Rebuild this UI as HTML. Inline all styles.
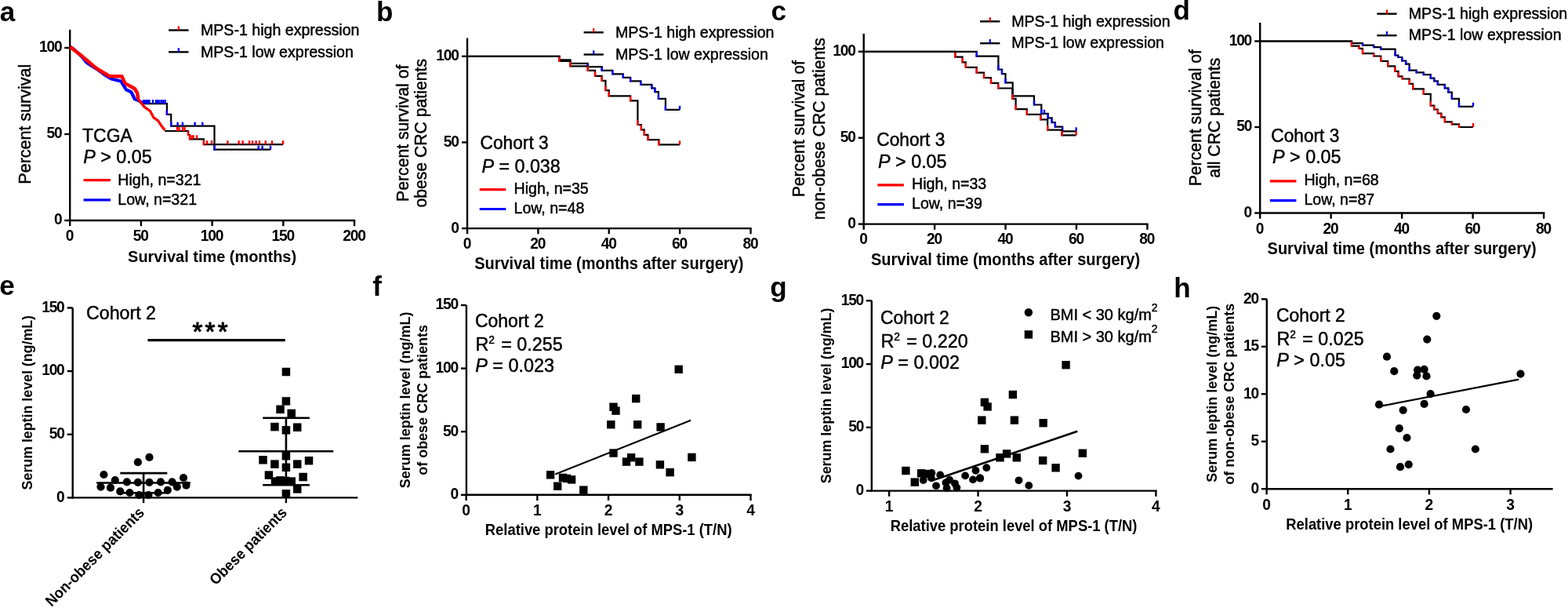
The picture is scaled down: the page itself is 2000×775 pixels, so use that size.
<!DOCTYPE html>
<html><head><meta charset="utf-8"><title>Figure</title>
<style>
html,body{margin:0;padding:0;background:#fff;width:2000px;height:775px;overflow:hidden}
svg{display:block}
text{font-family:"Liberation Sans",Arial,Helvetica,sans-serif;fill:#000;stroke:#000;stroke-width:0.45px;stroke-linejoin:round}
text[font-weight="bold"]{stroke-width:0}
</style></head><body>
<svg width="2000" height="775" viewBox="0 0 2000 775">
<rect width="2000" height="775" fill="#fff"/>
<text transform="translate(-0.3 26.6)" font-size="35" font-weight="bold">a</text>
<line x1="89.2" y1="37.8" x2="89.2" y2="282.2" stroke="#000" stroke-width="2.4" stroke-linecap="butt"/>
<line x1="82.2" y1="61" x2="89.2" y2="61" stroke="#000" stroke-width="2.4" stroke-linecap="butt"/>
<text transform="translate(78.4 66.4) scale(1 1.06)" font-size="19.2" font-weight="bold" text-anchor="end" letter-spacing="-1.2">100</text>
<line x1="82.2" y1="171" x2="89.2" y2="171" stroke="#000" stroke-width="2.4" stroke-linecap="butt"/>
<text transform="translate(78.4 176.4) scale(1 1.06)" font-size="19.2" font-weight="bold" text-anchor="end" letter-spacing="-1.2">50</text>
<line x1="82.2" y1="281" x2="89.2" y2="281" stroke="#000" stroke-width="2.4" stroke-linecap="butt"/>
<text transform="translate(78.4 286.4) scale(1 1.06)" font-size="19.2" font-weight="bold" text-anchor="end" letter-spacing="-1.2">0</text>
<line x1="88" y1="281" x2="453.2" y2="281" stroke="#000" stroke-width="2.4" stroke-linecap="butt"/>
<line x1="89.2" y1="281" x2="89.2" y2="288.2" stroke="#000" stroke-width="2.4" stroke-linecap="butt"/>
<text transform="translate(88.6 306.9) scale(1 1.06)" font-size="19.2" font-weight="bold" text-anchor="middle" letter-spacing="-1.2">0</text>
<line x1="179.9" y1="281" x2="179.9" y2="288.2" stroke="#000" stroke-width="2.4" stroke-linecap="butt"/>
<text transform="translate(179.3 306.9) scale(1 1.06)" font-size="19.2" font-weight="bold" text-anchor="middle" letter-spacing="-1.2">50</text>
<line x1="270.6" y1="281" x2="270.6" y2="288.2" stroke="#000" stroke-width="2.4" stroke-linecap="butt"/>
<text transform="translate(270 306.9) scale(1 1.06)" font-size="19.2" font-weight="bold" text-anchor="middle" letter-spacing="-1.2">100</text>
<line x1="361.3" y1="281" x2="361.3" y2="288.2" stroke="#000" stroke-width="2.4" stroke-linecap="butt"/>
<text transform="translate(360.7 306.9) scale(1 1.06)" font-size="19.2" font-weight="bold" text-anchor="middle" letter-spacing="-1.2">150</text>
<line x1="452" y1="281" x2="452" y2="288.2" stroke="#000" stroke-width="2.4" stroke-linecap="butt"/>
<text transform="translate(451.4 306.9) scale(1 1.06)" font-size="19.2" font-weight="bold" text-anchor="middle" letter-spacing="-1.2">200</text>
<text transform="translate(270.6 333.5) scale(1 1.06)" font-size="19.95" font-weight="bold" text-anchor="middle">Survival time (months)</text>
<text transform="translate(38.8 158.2) rotate(-90) scale(1 1.05)" font-size="21.5" text-anchor="middle">Percent survival</text>
<line x1="215.1" y1="38.5" x2="240.5" y2="38.5" stroke="#000" stroke-width="2.4" stroke-linecap="butt"/>
<rect x="226.7" y="33.3" width="2.2" height="5.2" fill="#ff0000"/>
<text transform="translate(256 44.8) scale(1 1.05)" font-size="19.6">MPS-1 high expression</text>
<line x1="215.1" y1="66.3" x2="240.5" y2="66.3" stroke="#000" stroke-width="2.4" stroke-linecap="butt"/>
<rect x="226.7" y="61.1" width="2.2" height="5.2" fill="#0000ff"/>
<text transform="translate(256 72.6) scale(1 1.05)" font-size="19.6">MPS-1 low expression</text>
<text transform="translate(105 180.6) scale(1 1.05)" font-size="23">TCGA</text>
<text transform="translate(106.2 208.1) scale(1 1.05)" font-size="23.3"><tspan font-style="italic">P</tspan> &gt; 0.05</text>
<line x1="106.6" y1="229.7" x2="141" y2="229.7" stroke="#ff0000" stroke-width="3.2" stroke-linecap="butt"/>
<text transform="translate(150.3 235.5) scale(1 1.05)" font-size="19.6">High, n=321</text>
<line x1="106.6" y1="254.9" x2="141" y2="254.9" stroke="#0000ff" stroke-width="3.2" stroke-linecap="butt"/>
<text transform="translate(150.3 260.7) scale(1 1.05)" font-size="19.6">Low, n=321</text>
<polyline fill="none" stroke="#000" stroke-width="2" stroke-linejoin="miter" points="89.5,59.5 95,63.5 100,68 106,74 110.2,79.5 117,84 125,89 135.3,96.5 142,100.5 150,102.5 154.3,103.5 160.8,114.1 167.4,117.4 171.8,126.2 176.2,127.8 181.7,131.5"/>
<polyline fill="none" stroke="#0000ff" stroke-width="4.2" stroke-linejoin="round" points="89.5,59.5 95,63.5 100,68 106,74 110.2,79.5 117,84 125,89 135.3,96.5 142,100.5 150,102.5 154.3,103.5 160.8,114.1 167.4,117.4 171.8,126.2 176.2,127.8 181.7,131.5"/>
<polyline fill="none" stroke="#000" stroke-width="2.2" stroke-linejoin="miter" points="181.7,132.2 212.9,132.2 212.9,145.9 218.2,145.9 218.2,160.6 273.5,160.6 273.5,190.7 345,190.7"/>
<rect x="211.7" y="140.4" width="2.4" height="6.5" fill="#0000ff"/>
<rect x="217" y="155.1" width="2.4" height="6.5" fill="#0000ff"/>
<rect x="272.3" y="185.2" width="2.4" height="6.5" fill="#0000ff"/>
<rect x="181.8" y="127.2" width="2.4" height="5" fill="#0000ff"/>
<rect x="183.3" y="127.2" width="2.4" height="5" fill="#0000ff"/>
<rect x="184.8" y="127.2" width="2.4" height="5" fill="#0000ff"/>
<rect x="186.3" y="127.2" width="2.4" height="5" fill="#0000ff"/>
<rect x="187.8" y="127.2" width="2.4" height="5" fill="#0000ff"/>
<rect x="189.3" y="127.2" width="2.4" height="5" fill="#0000ff"/>
<rect x="193.8" y="127.2" width="2.4" height="5" fill="#0000ff"/>
<rect x="197.8" y="127.2" width="2.4" height="5" fill="#0000ff"/>
<rect x="199.8" y="127.2" width="2.4" height="5" fill="#0000ff"/>
<rect x="202.2" y="127.2" width="2.4" height="5" fill="#0000ff"/>
<rect x="204.8" y="127.2" width="2.4" height="5" fill="#0000ff"/>
<rect x="207.1" y="127.2" width="2.4" height="5" fill="#0000ff"/>
<rect x="209.4" y="127.2" width="2.4" height="5" fill="#0000ff"/>
<rect x="225.4" y="155.6" width="2.4" height="5" fill="#0000ff"/>
<rect x="231.7" y="155.6" width="2.4" height="5" fill="#0000ff"/>
<rect x="247.4" y="155.6" width="2.4" height="5" fill="#0000ff"/>
<rect x="257.1" y="155.6" width="2.4" height="5" fill="#0000ff"/>
<rect x="328.5" y="185.7" width="2.4" height="5" fill="#0000ff"/>
<rect x="333.4" y="185.7" width="2.4" height="5" fill="#0000ff"/>
<rect x="343.8" y="185.7" width="2.4" height="5" fill="#0000ff"/>
<polyline fill="none" stroke="#000" stroke-width="2" stroke-linejoin="miter" points="89.5,59.5 96,65 104.4,71.3 111,77 117.9,82.9 126,89 135.3,94.5 140,97.3 155.4,97.3 159.7,106.4 171.8,113 175.1,118.5 176.2,126.2 183.9,136.1 191.5,141.5 195.9,149.8 201.4,153.6 205.8,160.2 210.2,165.7"/>
<polyline fill="none" stroke="#ff0000" stroke-width="4.4" stroke-linejoin="round" points="89.5,59.5 96,65 104.4,71.3 111,77 117.9,82.9 126,89 135.3,94.5 140,97.3 155.4,97.3 159.7,106.4 171.8,113 175.1,118.5 176.2,126.2"/>
<polyline fill="none" stroke="#ff0000" stroke-width="3.3" stroke-linejoin="round" points="175.1,118.5 176.2,126.2 183.9,136.1 191.5,141.5 195.9,149.8 201.4,153.6 205.8,160.2 210.2,165.7"/>
<polyline fill="none" stroke="#000" stroke-width="2.2" stroke-linejoin="miter" points="210.2,167 240,167 240,171.8 242,171.8 242,177.3 259.9,177.3 259.9,184.2 361,184.2"/>
<rect x="238.8" y="167" width="2.4" height="5.8" fill="#ff0000"/>
<rect x="240.8" y="171.8" width="2.4" height="6.5" fill="#ff0000"/>
<rect x="258.7" y="178.7" width="2.4" height="6.5" fill="#ff0000"/>
<rect x="224.8" y="162" width="2.4" height="5" fill="#ff0000"/>
<rect x="227.3" y="162" width="2.4" height="5" fill="#ff0000"/>
<rect x="231.8" y="162" width="2.4" height="5" fill="#ff0000"/>
<rect x="234.3" y="162" width="2.4" height="5" fill="#ff0000"/>
<rect x="243.3" y="172.3" width="2.4" height="5" fill="#ff0000"/>
<rect x="245.3" y="172.3" width="2.4" height="5" fill="#ff0000"/>
<rect x="249.8" y="172.3" width="2.4" height="5" fill="#ff0000"/>
<rect x="262.8" y="179.2" width="2.4" height="5" fill="#ff0000"/>
<rect x="268.8" y="179.2" width="2.4" height="5" fill="#ff0000"/>
<rect x="289.2" y="179.2" width="2.4" height="5" fill="#ff0000"/>
<rect x="303.4" y="179.2" width="2.4" height="5" fill="#ff0000"/>
<rect x="308.4" y="179.2" width="2.4" height="5" fill="#ff0000"/>
<rect x="316.8" y="179.2" width="2.4" height="5" fill="#ff0000"/>
<rect x="320.8" y="179.2" width="2.4" height="5" fill="#ff0000"/>
<rect x="325.4" y="179.2" width="2.4" height="5" fill="#ff0000"/>
<rect x="329.8" y="179.2" width="2.4" height="5" fill="#ff0000"/>
<rect x="337.5" y="179.2" width="2.4" height="5" fill="#ff0000"/>
<rect x="345.8" y="179.2" width="2.4" height="5" fill="#ff0000"/>
<rect x="359.8" y="179.2" width="2.4" height="5" fill="#ff0000"/>
<text transform="translate(480 26.6)" font-size="35" font-weight="bold">b</text>
<line x1="596" y1="48.5" x2="596" y2="292.3" stroke="#000" stroke-width="2.4" stroke-linecap="butt"/>
<line x1="589" y1="71.8" x2="596" y2="71.8" stroke="#000" stroke-width="2.4" stroke-linecap="butt"/>
<text transform="translate(584.7 77.2) scale(1 1.06)" font-size="19.2" font-weight="bold" text-anchor="end" letter-spacing="-1.2">100</text>
<line x1="589" y1="181.45" x2="596" y2="181.45" stroke="#000" stroke-width="2.4" stroke-linecap="butt"/>
<text transform="translate(584.7 186.85) scale(1 1.06)" font-size="19.2" font-weight="bold" text-anchor="end" letter-spacing="-1.2">50</text>
<line x1="589" y1="291.1" x2="596" y2="291.1" stroke="#000" stroke-width="2.4" stroke-linecap="butt"/>
<text transform="translate(584.7 296.5) scale(1 1.06)" font-size="19.2" font-weight="bold" text-anchor="end" letter-spacing="-1.2">0</text>
<line x1="594.8" y1="291.1" x2="958.7" y2="291.1" stroke="#000" stroke-width="2.4" stroke-linecap="butt"/>
<line x1="596" y1="291.1" x2="596" y2="298.3" stroke="#000" stroke-width="2.4" stroke-linecap="butt"/>
<text transform="translate(595.4 316.9) scale(1 1.06)" font-size="19.2" font-weight="bold" text-anchor="middle" letter-spacing="-1.2">0</text>
<line x1="686.38" y1="291.1" x2="686.38" y2="298.3" stroke="#000" stroke-width="2.4" stroke-linecap="butt"/>
<text transform="translate(685.77 316.9) scale(1 1.06)" font-size="19.2" font-weight="bold" text-anchor="middle" letter-spacing="-1.2">20</text>
<line x1="776.75" y1="291.1" x2="776.75" y2="298.3" stroke="#000" stroke-width="2.4" stroke-linecap="butt"/>
<text transform="translate(776.15 316.9) scale(1 1.06)" font-size="19.2" font-weight="bold" text-anchor="middle" letter-spacing="-1.2">40</text>
<line x1="867.12" y1="291.1" x2="867.12" y2="298.3" stroke="#000" stroke-width="2.4" stroke-linecap="butt"/>
<text transform="translate(866.52 316.9) scale(1 1.06)" font-size="19.2" font-weight="bold" text-anchor="middle" letter-spacing="-1.2">60</text>
<line x1="957.5" y1="291.1" x2="957.5" y2="298.3" stroke="#000" stroke-width="2.4" stroke-linecap="butt"/>
<text transform="translate(956.9 316.9) scale(1 1.06)" font-size="19.2" font-weight="bold" text-anchor="middle" letter-spacing="-1.2">80</text>
<text transform="translate(776.75 342.8) scale(1 1.06)" font-size="20" font-weight="bold" text-anchor="middle">Survival time (months after surgery)</text>
<text transform="translate(520.6 169.8) rotate(-90) scale(1 1.05)" font-size="21.2" text-anchor="middle">Percent survival of</text>
<text transform="translate(543.9 169.8) rotate(-90) scale(1 1.05)" font-size="21.2" text-anchor="middle">obese CRC patients</text>
<line x1="744.6" y1="41.3" x2="769.8" y2="41.3" stroke="#000" stroke-width="2.4" stroke-linecap="butt"/>
<rect x="756.1" y="36.1" width="2.2" height="5.2" fill="#ff0000"/>
<text transform="translate(785 47.9) scale(1 1.05)" font-size="19.6">MPS-1 high expression</text>
<line x1="744.6" y1="69.5" x2="769.8" y2="69.5" stroke="#000" stroke-width="2.4" stroke-linecap="butt"/>
<rect x="756.1" y="64.3" width="2.2" height="5.2" fill="#0000ff"/>
<text transform="translate(785 76.1) scale(1 1.05)" font-size="19.6">MPS-1 low expression</text>
<text transform="translate(612.6 189.9) scale(1 1.05)" font-size="22.7">Cohort 3</text>
<text transform="translate(614.4 220.1) scale(1 1.05)" font-size="23.3"><tspan font-style="italic">P</tspan> = 0.038</text>
<line x1="611.7" y1="241.7" x2="645.3" y2="241.7" stroke="#ff0000" stroke-width="3.2" stroke-linecap="butt"/>
<text transform="translate(655.5 247.2) scale(1 1.05)" font-size="19.6">High, n=35</text>
<line x1="611.7" y1="266.5" x2="645.3" y2="266.5" stroke="#0000ff" stroke-width="3.2" stroke-linecap="butt"/>
<text transform="translate(655.5 272) scale(1 1.05)" font-size="19.6">Low, n=48</text>
<polyline fill="none" stroke="#000" stroke-width="2.2" stroke-linejoin="miter" points="596,71.8 713.5,71.8 713.5,76.4 727.4,76.4 727.4,80.8 749.7,80.8 749.7,85.2 767.7,85.2 767.7,89.8 781.3,89.8 781.3,94.4 794.8,94.4 794.8,98.9 804.1,98.9 804.1,103.4 817.3,103.4 817.3,107.9 831.4,107.9 831.4,112.4 835.4,112.4 835.4,117.2 839.9,117.2 839.9,125.9 848.9,125.9 848.9,139.8 867,139.8"/>
<rect x="748.5" y="80.8" width="2.4" height="5.4" fill="#0000ff"/>
<rect x="766.5" y="85.2" width="2.4" height="5.6" fill="#0000ff"/>
<rect x="780.1" y="89.8" width="2.4" height="5.6" fill="#0000ff"/>
<rect x="793.6" y="94.4" width="2.4" height="5.5" fill="#0000ff"/>
<rect x="802.9" y="98.9" width="2.4" height="5.5" fill="#0000ff"/>
<rect x="816.1" y="103.4" width="2.4" height="5.5" fill="#0000ff"/>
<rect x="830.2" y="107.9" width="2.4" height="5.5" fill="#0000ff"/>
<rect x="834.2" y="112.4" width="2.4" height="5.8" fill="#0000ff"/>
<rect x="838.7" y="120.4" width="2.4" height="6.5" fill="#0000ff"/>
<rect x="847.7" y="134.3" width="2.4" height="6.5" fill="#0000ff"/>
<rect x="865.8" y="134.8" width="2.4" height="5" fill="#0000ff"/>
<polyline fill="none" stroke="#000" stroke-width="2.2" stroke-linejoin="miter" points="596,71.8 713.5,71.8 713.5,78 727.4,78 727.4,84.3 749.7,84.3 749.7,89.9 759,89.9 759,96.8 767.7,96.8 767.7,102.8 772.4,102.8 772.4,115.1 776.7,115.1 776.7,122.3 804.1,122.3 804.1,128.3 813.4,128.3 813.4,159 817.9,159 817.9,165.3 821.8,165.3 821.8,171.8 826.4,171.8 826.4,178.2 840.4,178.2 840.4,184.4 867,184.4"/>
<rect x="712.3" y="72.5" width="2.4" height="6.5" fill="#ff0000"/>
<rect x="726.2" y="78.8" width="2.4" height="6.5" fill="#ff0000"/>
<rect x="748.5" y="84.4" width="2.4" height="6.5" fill="#ff0000"/>
<rect x="757.8" y="91.3" width="2.4" height="6.5" fill="#ff0000"/>
<rect x="766.5" y="97.3" width="2.4" height="6.5" fill="#ff0000"/>
<rect x="771.2" y="109.6" width="2.4" height="6.5" fill="#ff0000"/>
<rect x="775.5" y="116.8" width="2.4" height="6.5" fill="#ff0000"/>
<rect x="802.9" y="122.8" width="2.4" height="6.5" fill="#ff0000"/>
<rect x="812.2" y="153.5" width="2.4" height="6.5" fill="#ff0000"/>
<rect x="816.7" y="159.8" width="2.4" height="6.5" fill="#ff0000"/>
<rect x="820.6" y="166.3" width="2.4" height="6.5" fill="#ff0000"/>
<rect x="825.2" y="172.7" width="2.4" height="6.5" fill="#ff0000"/>
<rect x="839.2" y="178.9" width="2.4" height="6.5" fill="#ff0000"/>
<rect x="865.8" y="179.4" width="2.4" height="5" fill="#ff0000"/>
<text transform="translate(983.6 25.7)" font-size="35" font-weight="bold">c</text>
<line x1="1101.7" y1="42.9" x2="1101.7" y2="286.8" stroke="#000" stroke-width="2.4" stroke-linecap="butt"/>
<line x1="1094.7" y1="65.8" x2="1101.7" y2="65.8" stroke="#000" stroke-width="2.4" stroke-linecap="butt"/>
<text transform="translate(1090.7 71.2) scale(1 1.06)" font-size="19.2" font-weight="bold" text-anchor="end" letter-spacing="-1.2">100</text>
<line x1="1094.7" y1="175.7" x2="1101.7" y2="175.7" stroke="#000" stroke-width="2.4" stroke-linecap="butt"/>
<text transform="translate(1090.7 181.1) scale(1 1.06)" font-size="19.2" font-weight="bold" text-anchor="end" letter-spacing="-1.2">50</text>
<line x1="1094.7" y1="285.6" x2="1101.7" y2="285.6" stroke="#000" stroke-width="2.4" stroke-linecap="butt"/>
<text transform="translate(1090.7 291) scale(1 1.06)" font-size="19.2" font-weight="bold" text-anchor="end" letter-spacing="-1.2">0</text>
<line x1="1100.5" y1="285.6" x2="1464.6" y2="285.6" stroke="#000" stroke-width="2.4" stroke-linecap="butt"/>
<line x1="1101.7" y1="285.6" x2="1101.7" y2="292.8" stroke="#000" stroke-width="2.4" stroke-linecap="butt"/>
<text transform="translate(1101.1 311) scale(1 1.06)" font-size="19.2" font-weight="bold" text-anchor="middle" letter-spacing="-1.2">0</text>
<line x1="1192.12" y1="285.6" x2="1192.12" y2="292.8" stroke="#000" stroke-width="2.4" stroke-linecap="butt"/>
<text transform="translate(1191.53 311) scale(1 1.06)" font-size="19.2" font-weight="bold" text-anchor="middle" letter-spacing="-1.2">20</text>
<line x1="1282.55" y1="285.6" x2="1282.55" y2="292.8" stroke="#000" stroke-width="2.4" stroke-linecap="butt"/>
<text transform="translate(1281.95 311) scale(1 1.06)" font-size="19.2" font-weight="bold" text-anchor="middle" letter-spacing="-1.2">40</text>
<line x1="1372.98" y1="285.6" x2="1372.98" y2="292.8" stroke="#000" stroke-width="2.4" stroke-linecap="butt"/>
<text transform="translate(1372.38 311) scale(1 1.06)" font-size="19.2" font-weight="bold" text-anchor="middle" letter-spacing="-1.2">60</text>
<line x1="1463.4" y1="285.6" x2="1463.4" y2="292.8" stroke="#000" stroke-width="2.4" stroke-linecap="butt"/>
<text transform="translate(1462.8 311) scale(1 1.06)" font-size="19.2" font-weight="bold" text-anchor="middle" letter-spacing="-1.2">80</text>
<text transform="translate(1282.55 337.9) scale(1 1.06)" font-size="20" font-weight="bold" text-anchor="middle">Survival time (months after surgery)</text>
<text transform="translate(1026.4 164.25) rotate(-90) scale(1 1.05)" font-size="21.2" text-anchor="middle">Percent survival of</text>
<text transform="translate(1051.7 164.25) rotate(-90) scale(1 1.05)" font-size="21.2" text-anchor="middle">non-obese CRC patients</text>
<line x1="1250.1" y1="27.3" x2="1275.4" y2="27.3" stroke="#000" stroke-width="2.4" stroke-linecap="butt"/>
<rect x="1261.65" y="22.1" width="2.2" height="5.2" fill="#ff0000"/>
<text transform="translate(1290.2 33.5) scale(1 1.05)" font-size="19.6">MPS-1 high expression</text>
<line x1="1250.1" y1="55.2" x2="1275.4" y2="55.2" stroke="#000" stroke-width="2.4" stroke-linecap="butt"/>
<rect x="1261.65" y="50" width="2.2" height="5.2" fill="#0000ff"/>
<text transform="translate(1290.2 61.4) scale(1 1.05)" font-size="19.6">MPS-1 low expression</text>
<text transform="translate(1118.3 185.6) scale(1 1.05)" font-size="22.7">Cohort 3</text>
<text transform="translate(1120.1 214.3) scale(1 1.05)" font-size="23.3"><tspan font-style="italic">P</tspan> &gt; 0.05</text>
<line x1="1119.3" y1="235.9" x2="1152.9" y2="235.9" stroke="#ff0000" stroke-width="3.2" stroke-linecap="butt"/>
<text transform="translate(1163 241.4) scale(1 1.05)" font-size="19.6">High, n=33</text>
<line x1="1119.3" y1="260.7" x2="1152.9" y2="260.7" stroke="#0000ff" stroke-width="3.2" stroke-linecap="butt"/>
<text transform="translate(1163 266.2) scale(1 1.05)" font-size="19.6">Low, n=39</text>
<polyline fill="none" stroke="#000" stroke-width="2.2" stroke-linejoin="miter" points="1101.7,65.8 1245.7,65.8 1245.7,71.6 1273.4,71.6 1273.4,88.5 1278,88.5 1278,94.1 1282.5,94.1 1282.5,105.4 1291.7,105.4 1291.7,122.3 1319,122.3 1319,133.5 1328.3,133.5 1328.3,144.8 1336.7,144.8 1336.7,150.4 1341.7,150.4 1341.7,156.1 1345.9,156.1 1345.9,161.7 1355.1,161.7 1355.1,167.3 1372.7,167.3"/>
<rect x="1244.5" y="66.1" width="2.4" height="6.5" fill="#0000ff"/>
<rect x="1272.2" y="83" width="2.4" height="6.5" fill="#0000ff"/>
<rect x="1276.8" y="88.6" width="2.4" height="6.5" fill="#0000ff"/>
<rect x="1281.3" y="99.9" width="2.4" height="6.5" fill="#0000ff"/>
<rect x="1290.5" y="116.8" width="2.4" height="6.5" fill="#0000ff"/>
<rect x="1317.8" y="128" width="2.4" height="6.5" fill="#0000ff"/>
<rect x="1327.1" y="139.3" width="2.4" height="6.5" fill="#0000ff"/>
<rect x="1335.5" y="144.9" width="2.4" height="6.5" fill="#0000ff"/>
<rect x="1340.5" y="150.6" width="2.4" height="6.5" fill="#0000ff"/>
<rect x="1344.7" y="156.2" width="2.4" height="6.5" fill="#0000ff"/>
<rect x="1353.9" y="161.8" width="2.4" height="6.5" fill="#0000ff"/>
<rect x="1330.8" y="139.8" width="2.4" height="5" fill="#0000ff"/>
<rect x="1371.5" y="162.3" width="2.4" height="5" fill="#0000ff"/>
<polyline fill="none" stroke="#000" stroke-width="2.2" stroke-linejoin="miter" points="1101.7,65.8 1218.4,65.8 1218.4,72.6 1227.6,72.6 1227.6,79.3 1231.8,79.3 1231.8,85.9 1245.7,85.9 1245.7,92.6 1255,92.6 1255,99.2 1264,99.2 1264,105.9 1273.2,105.9 1273.2,112.5 1291.4,112.5 1291.4,125.8 1295.6,125.8 1295.6,139.1 1309.8,139.1 1309.8,145.8 1327.4,145.8 1327.4,152.4 1336.2,152.4 1336.2,165.7 1354.6,165.7 1354.6,172.4 1372.7,172.4"/>
<rect x="1217.2" y="67.1" width="2.4" height="6.5" fill="#ff0000"/>
<rect x="1226.4" y="73.8" width="2.4" height="6.5" fill="#ff0000"/>
<rect x="1230.6" y="80.4" width="2.4" height="6.5" fill="#ff0000"/>
<rect x="1244.5" y="87.1" width="2.4" height="6.5" fill="#ff0000"/>
<rect x="1253.8" y="93.7" width="2.4" height="6.5" fill="#ff0000"/>
<rect x="1262.8" y="100.4" width="2.4" height="6.5" fill="#ff0000"/>
<rect x="1272" y="107" width="2.4" height="6.5" fill="#ff0000"/>
<rect x="1290.2" y="120.3" width="2.4" height="6.5" fill="#ff0000"/>
<rect x="1294.4" y="133.6" width="2.4" height="6.5" fill="#ff0000"/>
<rect x="1308.6" y="140.3" width="2.4" height="6.5" fill="#ff0000"/>
<rect x="1326.2" y="146.9" width="2.4" height="6.5" fill="#ff0000"/>
<rect x="1335" y="160.2" width="2.4" height="6.5" fill="#ff0000"/>
<rect x="1353.4" y="166.9" width="2.4" height="6.5" fill="#ff0000"/>
<rect x="1371.5" y="167.4" width="2.4" height="5" fill="#ff0000"/>
<text transform="translate(1496.6 25.4)" font-size="35" font-weight="bold">d</text>
<line x1="1607.2" y1="28.9" x2="1607.2" y2="272.7" stroke="#000" stroke-width="2.4" stroke-linecap="butt"/>
<line x1="1600.2" y1="52.5" x2="1607.2" y2="52.5" stroke="#000" stroke-width="2.4" stroke-linecap="butt"/>
<text transform="translate(1596.1 57.9) scale(1 1.06)" font-size="19.2" font-weight="bold" text-anchor="end" letter-spacing="-1.2">100</text>
<line x1="1600.2" y1="162" x2="1607.2" y2="162" stroke="#000" stroke-width="2.4" stroke-linecap="butt"/>
<text transform="translate(1596.1 167.4) scale(1 1.06)" font-size="19.2" font-weight="bold" text-anchor="end" letter-spacing="-1.2">50</text>
<line x1="1600.2" y1="271.5" x2="1607.2" y2="271.5" stroke="#000" stroke-width="2.4" stroke-linecap="butt"/>
<text transform="translate(1596.1 276.9) scale(1 1.06)" font-size="19.2" font-weight="bold" text-anchor="end" letter-spacing="-1.2">0</text>
<line x1="1606" y1="271.5" x2="1970.3" y2="271.5" stroke="#000" stroke-width="2.4" stroke-linecap="butt"/>
<line x1="1607.2" y1="271.5" x2="1607.2" y2="278.7" stroke="#000" stroke-width="2.4" stroke-linecap="butt"/>
<text transform="translate(1606.6 297.8) scale(1 1.06)" font-size="19.2" font-weight="bold" text-anchor="middle" letter-spacing="-1.2">0</text>
<line x1="1697.67" y1="271.5" x2="1697.67" y2="278.7" stroke="#000" stroke-width="2.4" stroke-linecap="butt"/>
<text transform="translate(1697.08 297.8) scale(1 1.06)" font-size="19.2" font-weight="bold" text-anchor="middle" letter-spacing="-1.2">20</text>
<line x1="1788.15" y1="271.5" x2="1788.15" y2="278.7" stroke="#000" stroke-width="2.4" stroke-linecap="butt"/>
<text transform="translate(1787.55 297.8) scale(1 1.06)" font-size="19.2" font-weight="bold" text-anchor="middle" letter-spacing="-1.2">40</text>
<line x1="1878.62" y1="271.5" x2="1878.62" y2="278.7" stroke="#000" stroke-width="2.4" stroke-linecap="butt"/>
<text transform="translate(1878.03 297.8) scale(1 1.06)" font-size="19.2" font-weight="bold" text-anchor="middle" letter-spacing="-1.2">60</text>
<line x1="1969.1" y1="271.5" x2="1969.1" y2="278.7" stroke="#000" stroke-width="2.4" stroke-linecap="butt"/>
<text transform="translate(1968.5 297.8) scale(1 1.06)" font-size="19.2" font-weight="bold" text-anchor="middle" letter-spacing="-1.2">80</text>
<text transform="translate(1788.15 323.8) scale(1 1.06)" font-size="20" font-weight="bold" text-anchor="middle">Survival time (months after surgery)</text>
<text transform="translate(1532 150.2) rotate(-90) scale(1 1.05)" font-size="21.2" text-anchor="middle">Percent survival of</text>
<text transform="translate(1556 150.2) rotate(-90) scale(1 1.05)" font-size="21.2" text-anchor="middle">all CRC patients</text>
<line x1="1756.3" y1="17.6" x2="1781.6" y2="17.6" stroke="#000" stroke-width="2.4" stroke-linecap="butt"/>
<rect x="1767.85" y="12.4" width="2.2" height="5.2" fill="#ff0000"/>
<text transform="translate(1796.8 23.8) scale(1 1.05)" font-size="19.6">MPS-1 high expression</text>
<line x1="1756.3" y1="45.2" x2="1781.6" y2="45.2" stroke="#000" stroke-width="2.4" stroke-linecap="butt"/>
<rect x="1767.85" y="40" width="2.2" height="5.2" fill="#0000ff"/>
<text transform="translate(1796.8 51.4) scale(1 1.05)" font-size="19.6">MPS-1 low expression</text>
<text transform="translate(1621.3 180.5) scale(1 1.05)" font-size="22.7">Cohort 3</text>
<text transform="translate(1623.1 207.9) scale(1 1.05)" font-size="23.3"><tspan font-style="italic">P</tspan> &gt; 0.05</text>
<line x1="1619.8" y1="230.9" x2="1653.4" y2="230.9" stroke="#ff0000" stroke-width="3.2" stroke-linecap="butt"/>
<text transform="translate(1663.4 236.2) scale(1 1.05)" font-size="19.6">High, n=68</text>
<line x1="1619.8" y1="255.7" x2="1653.4" y2="255.7" stroke="#0000ff" stroke-width="3.2" stroke-linecap="butt"/>
<text transform="translate(1663.4 261) scale(1 1.05)" font-size="19.6">Low, n=87</text>
<polyline fill="none" stroke="#000" stroke-width="2.2" stroke-linejoin="miter" points="1607.2,52.5 1724,52.5 1724,55.1 1738,55.1 1738,57.6 1752.2,57.6 1752.2,60.1 1761.2,60.1 1761.2,62.6 1779.6,62.6 1779.6,70.5 1783.3,70.5 1783.3,73 1788.3,73 1788.3,77.5 1793.2,77.5 1793.2,81.6 1797.7,81.6 1797.7,89.7 1806.7,89.7 1806.7,92.4 1815.8,92.4 1815.8,95.1 1824.8,95.1 1824.8,99.6 1829.3,99.6 1829.3,103.3 1833.9,103.3 1833.9,107.8 1842.9,107.8 1842.9,112.3 1847.4,112.3 1847.4,117.7 1851.9,117.7 1851.9,125.8 1861,125.8 1861,135.8 1879,135.8"/>
<rect x="1722.8" y="52.5" width="2.4" height="3.6" fill="#0000ff"/>
<rect x="1736.8" y="55.1" width="2.4" height="3.5" fill="#0000ff"/>
<rect x="1751" y="57.6" width="2.4" height="3.5" fill="#0000ff"/>
<rect x="1760" y="60.1" width="2.4" height="3.5" fill="#0000ff"/>
<rect x="1778.4" y="65" width="2.4" height="6.5" fill="#0000ff"/>
<rect x="1782.1" y="70.5" width="2.4" height="3.5" fill="#0000ff"/>
<rect x="1787.1" y="73" width="2.4" height="5.5" fill="#0000ff"/>
<rect x="1792" y="77.5" width="2.4" height="5.1" fill="#0000ff"/>
<rect x="1796.5" y="84.2" width="2.4" height="6.5" fill="#0000ff"/>
<rect x="1805.5" y="89.7" width="2.4" height="3.7" fill="#0000ff"/>
<rect x="1814.6" y="92.4" width="2.4" height="3.7" fill="#0000ff"/>
<rect x="1823.6" y="95.1" width="2.4" height="5.5" fill="#0000ff"/>
<rect x="1828.1" y="99.6" width="2.4" height="4.7" fill="#0000ff"/>
<rect x="1832.7" y="103.3" width="2.4" height="5.5" fill="#0000ff"/>
<rect x="1841.7" y="107.8" width="2.4" height="5.5" fill="#0000ff"/>
<rect x="1846.2" y="112.3" width="2.4" height="6.4" fill="#0000ff"/>
<rect x="1850.7" y="120.3" width="2.4" height="6.5" fill="#0000ff"/>
<rect x="1859.8" y="130.3" width="2.4" height="6.5" fill="#0000ff"/>
<rect x="1877.8" y="130.8" width="2.4" height="5" fill="#0000ff"/>
<polyline fill="none" stroke="#000" stroke-width="2.2" stroke-linejoin="miter" points="1607.2,52.5 1724,52.5 1724,58.6 1733.6,58.6 1733.6,61.8 1738,61.8 1738,68.2 1752.2,68.2 1752.2,71.5 1761.2,71.5 1761.2,77.9 1770.2,77.9 1770.2,84.4 1779.3,84.4 1779.3,90.8 1783.6,90.8 1783.6,97.3 1788.7,97.3 1788.7,100.5 1797.7,100.5 1797.7,106.9 1802.2,106.9 1802.2,113.4 1815.8,113.4 1815.8,119.8 1824.8,119.8 1824.8,134.7 1829.3,134.7 1829.3,139.5 1833.9,139.5 1833.9,144.5 1838.4,144.5 1838.4,149.3 1842.9,149.3 1842.9,155.3 1851.9,155.3 1851.9,158.4 1861,158.4 1861,162 1879,162"/>
<rect x="1722.8" y="53.1" width="2.4" height="6.5" fill="#ff0000"/>
<rect x="1732.4" y="58.6" width="2.4" height="4.2" fill="#ff0000"/>
<rect x="1736.8" y="62.7" width="2.4" height="6.5" fill="#ff0000"/>
<rect x="1751" y="68.2" width="2.4" height="4.3" fill="#ff0000"/>
<rect x="1760" y="72.4" width="2.4" height="6.5" fill="#ff0000"/>
<rect x="1769" y="78.9" width="2.4" height="6.5" fill="#ff0000"/>
<rect x="1778.1" y="85.3" width="2.4" height="6.5" fill="#ff0000"/>
<rect x="1782.4" y="91.8" width="2.4" height="6.5" fill="#ff0000"/>
<rect x="1787.5" y="97.3" width="2.4" height="4.2" fill="#ff0000"/>
<rect x="1796.5" y="101.4" width="2.4" height="6.5" fill="#ff0000"/>
<rect x="1801" y="107.9" width="2.4" height="6.5" fill="#ff0000"/>
<rect x="1814.6" y="114.3" width="2.4" height="6.5" fill="#ff0000"/>
<rect x="1823.6" y="129.2" width="2.4" height="6.5" fill="#ff0000"/>
<rect x="1828.1" y="134.7" width="2.4" height="5.8" fill="#ff0000"/>
<rect x="1832.7" y="139.5" width="2.4" height="6" fill="#ff0000"/>
<rect x="1837.2" y="144.5" width="2.4" height="5.8" fill="#ff0000"/>
<rect x="1841.7" y="149.8" width="2.4" height="6.5" fill="#ff0000"/>
<rect x="1850.7" y="155.3" width="2.4" height="4.1" fill="#ff0000"/>
<rect x="1859.8" y="158.4" width="2.4" height="4.6" fill="#ff0000"/>
<rect x="1877.8" y="157" width="2.4" height="5" fill="#ff0000"/>
<text transform="translate(-0.7 376.2)" font-size="35" font-weight="bold">e</text>
<line x1="92.7" y1="392.4" x2="92.7" y2="635.6" stroke="#000" stroke-width="2.4" stroke-linecap="butt"/>
<line x1="85.7" y1="392.4" x2="92.7" y2="392.4" stroke="#000" stroke-width="2.4" stroke-linecap="butt"/>
<text transform="translate(81.6 397.8) scale(1 1.06)" font-size="19.2" font-weight="bold" text-anchor="end" letter-spacing="-1.2">150</text>
<line x1="85.7" y1="473.07" x2="92.7" y2="473.07" stroke="#000" stroke-width="2.4" stroke-linecap="butt"/>
<text transform="translate(81.6 478.47) scale(1 1.06)" font-size="19.2" font-weight="bold" text-anchor="end" letter-spacing="-1.2">100</text>
<line x1="85.7" y1="553.73" x2="92.7" y2="553.73" stroke="#000" stroke-width="2.4" stroke-linecap="butt"/>
<text transform="translate(81.6 559.13) scale(1 1.06)" font-size="19.2" font-weight="bold" text-anchor="end" letter-spacing="-1.2">50</text>
<line x1="85.7" y1="634.4" x2="92.7" y2="634.4" stroke="#000" stroke-width="2.4" stroke-linecap="butt"/>
<text transform="translate(81.6 639.8) scale(1 1.06)" font-size="19.2" font-weight="bold" text-anchor="end" letter-spacing="-1.2">0</text>
<line x1="91.5" y1="634.4" x2="456.4" y2="634.4" stroke="#000" stroke-width="2.4" stroke-linecap="butt"/>
<line x1="183.1" y1="634.4" x2="183.1" y2="641.2" stroke="#000" stroke-width="2.4" stroke-linecap="butt"/>
<line x1="364.9" y1="634.4" x2="364.9" y2="641.2" stroke="#000" stroke-width="2.4" stroke-linecap="butt"/>
<text transform="translate(185.2 654.5) rotate(-45) scale(1 1.06)" font-size="18.2" font-weight="bold" text-anchor="end">Non-obese patients</text>
<text transform="translate(367.2 654.5) rotate(-45) scale(1 1.06)" font-size="18.2" font-weight="bold" text-anchor="end">Obese patients</text>
<text transform="translate(41.2 513.2) rotate(-90) scale(1 1.06)" font-size="17.8" font-weight="bold" text-anchor="middle">Serum leptin level (ng/mL)</text>
<text transform="translate(110 407.4) scale(1 1.05)" font-size="23.2">Cohort 2</text>
<line x1="188.4" y1="433.6" x2="363.7" y2="433.6" stroke="#000" stroke-width="3.2" stroke-linecap="butt"/>
<text transform="translate(245.4 434.2)" font-size="33" letter-spacing="3.3" style="stroke-width:1.1px">***</text>
<circle cx="132.4" cy="605" r="5.1"/>
<circle cx="175.9" cy="589.2" r="5.1"/>
<circle cx="190.5" cy="582.9" r="5.1"/>
<circle cx="146.8" cy="612" r="5.1"/>
<circle cx="161.9" cy="614.3" r="5.1"/>
<circle cx="175.9" cy="614.8" r="5.1"/>
<circle cx="190.5" cy="614.8" r="5.1"/>
<circle cx="204.9" cy="614.3" r="5.1"/>
<circle cx="219.6" cy="614.3" r="5.1"/>
<circle cx="234" cy="609" r="5.1"/>
<circle cx="128.5" cy="620.6" r="5.1"/>
<circle cx="141" cy="621.7" r="5.1"/>
<circle cx="153.3" cy="626.4" r="5.1"/>
<circle cx="165.4" cy="628" r="5.1"/>
<circle cx="177.3" cy="631" r="5.1"/>
<circle cx="189.4" cy="631" r="5.1"/>
<circle cx="201.7" cy="628" r="5.1"/>
<circle cx="213.8" cy="624.8" r="5.1"/>
<circle cx="225.8" cy="620.6" r="5.1"/>
<circle cx="237.5" cy="618.7" r="5.1"/>
<line x1="123.1" y1="615.5" x2="242.8" y2="615.5" stroke="#000" stroke-width="2.6" stroke-linecap="butt"/>
<line x1="153.3" y1="603.1" x2="213.3" y2="603.1" stroke="#000" stroke-width="2.6" stroke-linecap="butt"/>
<line x1="153.3" y1="628.2" x2="213.3" y2="628.2" stroke="#000" stroke-width="2.6" stroke-linecap="butt"/>
<line x1="183.1" y1="603.1" x2="183.1" y2="634" stroke="#000" stroke-width="2.6" stroke-linecap="butt"/>
<rect x="359.65" y="468.75" width="10.5" height="10.5"/>
<rect x="359.65" y="506.15" width="10.5" height="10.5"/>
<rect x="352.25" y="516.55" width="10.5" height="10.5"/>
<rect x="366.45" y="521.65" width="10.5" height="10.5"/>
<rect x="345.15" y="538.85" width="10.5" height="10.5"/>
<rect x="373.95" y="539.45" width="10.5" height="10.5"/>
<rect x="359.65" y="543.05" width="10.5" height="10.5"/>
<rect x="359.65" y="575.95" width="10.5" height="10.5"/>
<rect x="330.25" y="581.05" width="10.5" height="10.5"/>
<rect x="388.75" y="581.95" width="10.5" height="10.5"/>
<rect x="345.15" y="586.35" width="10.5" height="10.5"/>
<rect x="373.95" y="586.35" width="10.5" height="10.5"/>
<rect x="359.65" y="590.55" width="10.5" height="10.5"/>
<rect x="337.65" y="600.35" width="10.5" height="10.5"/>
<rect x="381.35" y="602.75" width="10.5" height="10.5"/>
<rect x="345.75" y="608.35" width="10.5" height="10.5"/>
<rect x="352.25" y="607.15" width="10.5" height="10.5"/>
<rect x="359.05" y="607.75" width="10.5" height="10.5"/>
<rect x="366.45" y="608.35" width="10.5" height="10.5"/>
<rect x="373.95" y="618.15" width="10.5" height="10.5"/>
<rect x="359.65" y="624.05" width="10.5" height="10.5"/>
<line x1="304.3" y1="575.3" x2="425.2" y2="575.3" stroke="#000" stroke-width="2.6" stroke-linecap="butt"/>
<line x1="335.2" y1="532.8" x2="394.9" y2="532.8" stroke="#000" stroke-width="2.6" stroke-linecap="butt"/>
<line x1="335.2" y1="618.3" x2="394.9" y2="618.3" stroke="#000" stroke-width="2.6" stroke-linecap="butt"/>
<line x1="364.9" y1="532.8" x2="364.9" y2="618.3" stroke="#000" stroke-width="2.6" stroke-linecap="butt"/>
<text transform="translate(475.2 376.9)" font-size="35" font-weight="bold">f</text>
<line x1="594.9" y1="389" x2="594.9" y2="632" stroke="#000" stroke-width="2.4" stroke-linecap="butt"/>
<line x1="587.9" y1="389" x2="594.9" y2="389" stroke="#000" stroke-width="2.4" stroke-linecap="butt"/>
<text transform="translate(584 394.4) scale(1 1.06)" font-size="19.2" font-weight="bold" text-anchor="end" letter-spacing="-1.2">150</text>
<line x1="587.9" y1="469.6" x2="594.9" y2="469.6" stroke="#000" stroke-width="2.4" stroke-linecap="butt"/>
<text transform="translate(584 475) scale(1 1.06)" font-size="19.2" font-weight="bold" text-anchor="end" letter-spacing="-1.2">100</text>
<line x1="587.9" y1="550.2" x2="594.9" y2="550.2" stroke="#000" stroke-width="2.4" stroke-linecap="butt"/>
<text transform="translate(584 555.6) scale(1 1.06)" font-size="19.2" font-weight="bold" text-anchor="end" letter-spacing="-1.2">50</text>
<line x1="587.9" y1="630.8" x2="594.9" y2="630.8" stroke="#000" stroke-width="2.4" stroke-linecap="butt"/>
<text transform="translate(584 636.2) scale(1 1.06)" font-size="19.2" font-weight="bold" text-anchor="end" letter-spacing="-1.2">0</text>
<line x1="593.7" y1="630.8" x2="958.7" y2="630.8" stroke="#000" stroke-width="2.4" stroke-linecap="butt"/>
<line x1="594.6" y1="630.8" x2="594.6" y2="638" stroke="#000" stroke-width="2.4" stroke-linecap="butt"/>
<text transform="translate(594 656.6) scale(1 1.06)" font-size="19.2" font-weight="bold" text-anchor="middle" letter-spacing="-1.2">0</text>
<line x1="685.32" y1="630.8" x2="685.32" y2="638" stroke="#000" stroke-width="2.4" stroke-linecap="butt"/>
<text transform="translate(684.72 656.6) scale(1 1.06)" font-size="19.2" font-weight="bold" text-anchor="middle" letter-spacing="-1.2">1</text>
<line x1="776.04" y1="630.8" x2="776.04" y2="638" stroke="#000" stroke-width="2.4" stroke-linecap="butt"/>
<text transform="translate(775.44 656.6) scale(1 1.06)" font-size="19.2" font-weight="bold" text-anchor="middle" letter-spacing="-1.2">2</text>
<line x1="866.76" y1="630.8" x2="866.76" y2="638" stroke="#000" stroke-width="2.4" stroke-linecap="butt"/>
<text transform="translate(866.16 656.6) scale(1 1.06)" font-size="19.2" font-weight="bold" text-anchor="middle" letter-spacing="-1.2">3</text>
<line x1="957.48" y1="630.8" x2="957.48" y2="638" stroke="#000" stroke-width="2.4" stroke-linecap="butt"/>
<text transform="translate(956.88 656.6) scale(1 1.06)" font-size="19.2" font-weight="bold" text-anchor="middle" letter-spacing="-1.2">4</text>
<text transform="translate(776.2 682) scale(1 1.06)" font-size="18.4" font-weight="bold" text-anchor="middle">Relative protein level of MPS-1 (T/N)</text>
<text transform="translate(522.8 509.9) rotate(-90) scale(1 1.06)" font-size="18" font-weight="bold" text-anchor="middle">Serum leptin level (ng/mL)</text>
<text transform="translate(545.3 509.9) rotate(-90) scale(1 1.06)" font-size="18" font-weight="bold" text-anchor="middle">of obese CRC patients</text>
<text transform="translate(606 417.1) scale(1 1.05)" font-size="22.9">Cohort 2</text>
<text transform="translate(606.4 446.8) scale(1 1.05)" font-size="23.3">R<tspan font-size="13.8" dy="-8.6">2</tspan><tspan dy="8.6" dx="1.9"> = 0.255</tspan></text>
<text transform="translate(606.2 473.8) scale(1 1.05)" font-size="23.4"><tspan font-style="italic">P</tspan> = 0.023</text>
<line x1="708.2" y1="604.5" x2="881.1" y2="535.8" stroke="#000" stroke-width="2.2" stroke-linecap="butt"/>
<rect x="860.5" y="465.6" width="10.4" height="10.4"/>
<rect x="806" y="502.9" width="10.4" height="10.4"/>
<rect x="777.3" y="513.5" width="10.4" height="10.4"/>
<rect x="780.3" y="518.4" width="10.4" height="10.4"/>
<rect x="774.1" y="536" width="10.4" height="10.4"/>
<rect x="808" y="536" width="10.4" height="10.4"/>
<rect x="837.4" y="539.2" width="10.4" height="10.4"/>
<rect x="777.3" y="572.3" width="10.4" height="10.4"/>
<rect x="799.9" y="578" width="10.4" height="10.4"/>
<rect x="793.8" y="583.4" width="10.4" height="10.4"/>
<rect x="810.2" y="583.4" width="10.4" height="10.4"/>
<rect x="877.2" y="577.7" width="10.4" height="10.4"/>
<rect x="836.7" y="587.1" width="10.4" height="10.4"/>
<rect x="849.4" y="596.9" width="10.4" height="10.4"/>
<rect x="696.9" y="600.1" width="10.4" height="10.4"/>
<rect x="712.8" y="603.7" width="10.4" height="10.4"/>
<rect x="717.7" y="604.7" width="10.4" height="10.4"/>
<rect x="723.9" y="606.2" width="10.4" height="10.4"/>
<rect x="706" y="614.5" width="10.4" height="10.4"/>
<rect x="739.1" y="619.4" width="10.4" height="10.4"/>
<text transform="translate(982.3 377.9)" font-size="35" font-weight="bold">g</text>
<line x1="1111.8" y1="383.3" x2="1111.8" y2="626.8" stroke="#000" stroke-width="2.4" stroke-linecap="butt"/>
<line x1="1104.8" y1="383.3" x2="1111.8" y2="383.3" stroke="#000" stroke-width="2.4" stroke-linecap="butt"/>
<text transform="translate(1101.1 388.7) scale(1 1.06)" font-size="19.2" font-weight="bold" text-anchor="end" letter-spacing="-1.2">150</text>
<line x1="1104.8" y1="464.07" x2="1111.8" y2="464.07" stroke="#000" stroke-width="2.4" stroke-linecap="butt"/>
<text transform="translate(1101.1 469.47) scale(1 1.06)" font-size="19.2" font-weight="bold" text-anchor="end" letter-spacing="-1.2">100</text>
<line x1="1104.8" y1="544.83" x2="1111.8" y2="544.83" stroke="#000" stroke-width="2.4" stroke-linecap="butt"/>
<text transform="translate(1101.1 550.23) scale(1 1.06)" font-size="19.2" font-weight="bold" text-anchor="end" letter-spacing="-1.2">50</text>
<line x1="1104.8" y1="625.6" x2="1111.8" y2="625.6" stroke="#000" stroke-width="2.4" stroke-linecap="butt"/>
<text transform="translate(1101.1 631) scale(1 1.06)" font-size="19.2" font-weight="bold" text-anchor="end" letter-spacing="-1.2">0</text>
<line x1="1110.6" y1="625.6" x2="1475.6" y2="625.6" stroke="#000" stroke-width="2.4" stroke-linecap="butt"/>
<line x1="1134.1" y1="625.6" x2="1134.1" y2="632.8" stroke="#000" stroke-width="2.4" stroke-linecap="butt"/>
<text transform="translate(1133.5 651.5) scale(1 1.06)" font-size="19.2" font-weight="bold" text-anchor="middle" letter-spacing="-1.2">1</text>
<line x1="1247.53" y1="625.6" x2="1247.53" y2="632.8" stroke="#000" stroke-width="2.4" stroke-linecap="butt"/>
<text transform="translate(1246.93 651.5) scale(1 1.06)" font-size="19.2" font-weight="bold" text-anchor="middle" letter-spacing="-1.2">2</text>
<line x1="1360.96" y1="625.6" x2="1360.96" y2="632.8" stroke="#000" stroke-width="2.4" stroke-linecap="butt"/>
<text transform="translate(1360.36 651.5) scale(1 1.06)" font-size="19.2" font-weight="bold" text-anchor="middle" letter-spacing="-1.2">3</text>
<line x1="1474.39" y1="625.6" x2="1474.39" y2="632.8" stroke="#000" stroke-width="2.4" stroke-linecap="butt"/>
<text transform="translate(1473.79 651.5) scale(1 1.06)" font-size="19.2" font-weight="bold" text-anchor="middle" letter-spacing="-1.2">4</text>
<text transform="translate(1293.1 676.9) scale(1 1.06)" font-size="18.4" font-weight="bold" text-anchor="middle">Relative protein level of MPS-1 (T/N)</text>
<text transform="translate(1060.2 504.45) rotate(-90) scale(1 1.06)" font-size="17.9" font-weight="bold" text-anchor="middle">Serum leptin level (ng/mL)</text>
<text transform="translate(1123 412.7) scale(1 1.05)" font-size="22.9">Cohort 2</text>
<text transform="translate(1123.4 443.1) scale(1 1.05)" font-size="23.3">R<tspan font-size="13.8" dy="-8.6">2</tspan><tspan dy="8.6" dx="1.9"> = 0.220</tspan></text>
<text transform="translate(1123.2 470.1) scale(1 1.05)" font-size="23.4"><tspan font-style="italic">P</tspan> = 0.002</text>
<circle cx="1311.9" cy="398.3" r="5.2"/>
<rect x="1306.7" y="421.2" width="10.4" height="10.4"/>
<text transform="translate(1339.4 408.2) scale(1 1.05)" font-size="20">BMI &lt; 30 kg/m<tspan font-size="14" dy="-11">2</tspan></text>
<text transform="translate(1339.4 435.6) scale(1 1.05)" font-size="20">BMI &gt; 30 kg/m<tspan font-size="14" dy="-11">2</tspan></text>
<line x1="1187.6" y1="613.1" x2="1374.3" y2="549.8" stroke="#000" stroke-width="2.6" stroke-linecap="butt"/>
<rect x="1150.2" y="594.8" width="10.4" height="10.4"/>
<rect x="1161.6" y="609.4" width="10.4" height="10.4"/>
<rect x="1169.9" y="598.1" width="10.4" height="10.4"/>
<rect x="1174.8" y="598.8" width="10.4" height="10.4"/>
<rect x="1354.4" y="460" width="10.4" height="10.4"/>
<rect x="1286.7" y="497.8" width="10.4" height="10.4"/>
<rect x="1250.7" y="507.6" width="10.4" height="10.4"/>
<rect x="1254.4" y="513.2" width="10.4" height="10.4"/>
<rect x="1247.1" y="530.4" width="10.4" height="10.4"/>
<rect x="1288.7" y="530.4" width="10.4" height="10.4"/>
<rect x="1325.5" y="534" width="10.4" height="10.4"/>
<rect x="1250.7" y="567.1" width="10.4" height="10.4"/>
<rect x="1278.9" y="573.2" width="10.4" height="10.4"/>
<rect x="1270.3" y="578.1" width="10.4" height="10.4"/>
<rect x="1291.6" y="578.1" width="10.4" height="10.4"/>
<rect x="1325" y="581.8" width="10.4" height="10.4"/>
<rect x="1375.7" y="572.5" width="10.4" height="10.4"/>
<rect x="1341.4" y="591.1" width="10.4" height="10.4"/>
<circle cx="1177.7" cy="612" r="4.9"/>
<circle cx="1188.4" cy="603" r="4.9"/>
<circle cx="1187.9" cy="609.4" r="4.9"/>
<circle cx="1199.2" cy="605.4" r="4.9"/>
<circle cx="1194" cy="619.3" r="4.9"/>
<circle cx="1206.4" cy="615.2" r="4.9"/>
<circle cx="1211.1" cy="611.7" r="4.9"/>
<circle cx="1218" cy="616.3" r="4.9"/>
<circle cx="1220.4" cy="621.6" r="4.9"/>
<circle cx="1207.6" cy="622.2" r="4.9"/>
<circle cx="1231.1" cy="606.4" r="4.9"/>
<circle cx="1244.5" cy="599.8" r="4.9"/>
<circle cx="1241" cy="611.4" r="4.9"/>
<circle cx="1250.3" cy="609.7" r="4.9"/>
<circle cx="1258.3" cy="596.2" r="4.9"/>
<circle cx="1249.8" cy="609.1" r="4.9"/>
<circle cx="1299.5" cy="612.3" r="4.9"/>
<circle cx="1312.3" cy="618.9" r="4.9"/>
<circle cx="1375.5" cy="606.6" r="4.9"/>
<text transform="translate(1497.3 378.5)" font-size="35" font-weight="bold">h</text>
<line x1="1615.8" y1="381.3" x2="1615.8" y2="624.4" stroke="#000" stroke-width="2.4" stroke-linecap="butt"/>
<line x1="1608.8" y1="381.3" x2="1615.8" y2="381.3" stroke="#000" stroke-width="2.4" stroke-linecap="butt"/>
<text transform="translate(1605 386.7) scale(1 1.06)" font-size="19.2" font-weight="bold" text-anchor="end" letter-spacing="-1.2">20</text>
<line x1="1608.8" y1="441.78" x2="1615.8" y2="441.78" stroke="#000" stroke-width="2.4" stroke-linecap="butt"/>
<text transform="translate(1605 447.18) scale(1 1.06)" font-size="19.2" font-weight="bold" text-anchor="end" letter-spacing="-1.2">15</text>
<line x1="1608.8" y1="502.25" x2="1615.8" y2="502.25" stroke="#000" stroke-width="2.4" stroke-linecap="butt"/>
<text transform="translate(1605 507.65) scale(1 1.06)" font-size="19.2" font-weight="bold" text-anchor="end" letter-spacing="-1.2">10</text>
<line x1="1608.8" y1="562.73" x2="1615.8" y2="562.73" stroke="#000" stroke-width="2.4" stroke-linecap="butt"/>
<text transform="translate(1605 568.12) scale(1 1.06)" font-size="19.2" font-weight="bold" text-anchor="end" letter-spacing="-1.2">5</text>
<line x1="1608.8" y1="623.2" x2="1615.8" y2="623.2" stroke="#000" stroke-width="2.4" stroke-linecap="butt"/>
<text transform="translate(1605 628.6) scale(1 1.06)" font-size="19.2" font-weight="bold" text-anchor="end" letter-spacing="-1.2">0</text>
<line x1="1614.6" y1="623.2" x2="1980.7" y2="623.2" stroke="#000" stroke-width="2.4" stroke-linecap="butt"/>
<line x1="1615.6" y1="623.2" x2="1615.6" y2="630.4" stroke="#000" stroke-width="2.4" stroke-linecap="butt"/>
<text transform="translate(1615 649.7) scale(1 1.06)" font-size="19.2" font-weight="bold" text-anchor="middle" letter-spacing="-1.2">0</text>
<line x1="1719.27" y1="623.2" x2="1719.27" y2="630.4" stroke="#000" stroke-width="2.4" stroke-linecap="butt"/>
<text transform="translate(1718.67 649.7) scale(1 1.06)" font-size="19.2" font-weight="bold" text-anchor="middle" letter-spacing="-1.2">1</text>
<line x1="1822.94" y1="623.2" x2="1822.94" y2="630.4" stroke="#000" stroke-width="2.4" stroke-linecap="butt"/>
<text transform="translate(1822.34 649.7) scale(1 1.06)" font-size="19.2" font-weight="bold" text-anchor="middle" letter-spacing="-1.2">2</text>
<line x1="1926.61" y1="623.2" x2="1926.61" y2="630.4" stroke="#000" stroke-width="2.4" stroke-linecap="butt"/>
<text transform="translate(1926.01 649.7) scale(1 1.06)" font-size="19.2" font-weight="bold" text-anchor="middle" letter-spacing="-1.2">3</text>
<text transform="translate(1797.65 674.5) scale(1 1.06)" font-size="18.4" font-weight="bold" text-anchor="middle">Relative protein level of MPS-1 (T/N)</text>
<text transform="translate(1551.6 502.25) rotate(-90) scale(1 1.06)" font-size="18" font-weight="bold" text-anchor="middle">Serum leptin level (ng/mL)</text>
<text transform="translate(1574.1 502.25) rotate(-90) scale(1 1.06)" font-size="18" font-weight="bold" text-anchor="middle">of non-obese CRC patients</text>
<text transform="translate(1628 409.9) scale(1 1.05)" font-size="22.9">Cohort 2</text>
<text transform="translate(1628.4 440) scale(1 1.05)" font-size="23.3">R<tspan font-size="13.8" dy="-8.6">2</tspan><tspan dy="8.6" dx="1.9"> = 0.025</tspan></text>
<text transform="translate(1628.2 467.1) scale(1 1.05)" font-size="23.4"><tspan font-style="italic">P</tspan> &gt; 0.05</text>
<line x1="1761.3" y1="517.7" x2="1937.3" y2="483.7" stroke="#000" stroke-width="2.2" stroke-linecap="butt"/>
<circle cx="1832.3" cy="402.8" r="5.1"/>
<circle cx="1820.3" cy="432.6" r="5.1"/>
<circle cx="1769" cy="454.7" r="5.1"/>
<circle cx="1778.3" cy="473.2" r="5.1"/>
<circle cx="1808.1" cy="471.7" r="5.1"/>
<circle cx="1816.6" cy="470.9" r="5.1"/>
<circle cx="1807.3" cy="478.6" r="5.1"/>
<circle cx="1819.5" cy="479.4" r="5.1"/>
<circle cx="1939.5" cy="476.6" r="5.1"/>
<circle cx="1824.6" cy="502.1" r="5.1"/>
<circle cx="1816.6" cy="514.9" r="5.1"/>
<circle cx="1759" cy="515.7" r="5.1"/>
<circle cx="1789.7" cy="522.8" r="5.1"/>
<circle cx="1870" cy="522" r="5.1"/>
<circle cx="1784.8" cy="546.1" r="5.1"/>
<circle cx="1794.5" cy="558" r="5.1"/>
<circle cx="1773.5" cy="572.5" r="5.1"/>
<circle cx="1881.9" cy="572.5" r="5.1"/>
<circle cx="1796.8" cy="592.1" r="5.1"/>
<circle cx="1786" cy="595.2" r="5.1"/>
</svg>
</body></html>
